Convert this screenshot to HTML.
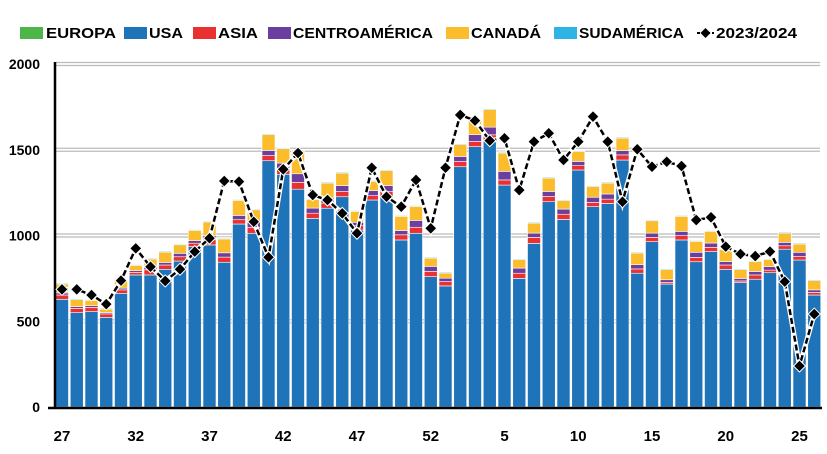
<!DOCTYPE html>
<html><head><meta charset="utf-8">
<style>
body{margin:0;background:#fff;width:827px;height:449px;overflow:hidden}
svg text{font-family:"Liberation Sans",sans-serif;font-weight:bold;fill:#000;stroke:#fff;stroke-width:2.5px;paint-order:stroke;}
</style></head>
<body>
<svg id="chart" width="827" height="449" xmlns="http://www.w3.org/2000/svg"></svg>
<script>
const weeks = [27,28,29,30,31,32,33,34,35,36,37,38,39,40,41,42,43,44,45,46,47,48,49,50,51,52,1,2,3,4,5,6,7,8,9,10,11,12,13,14,15,16,17,18,19,20,21,22,23,24,25,26];
const usa = [628,550,556,523,663,770,770,803,851,935,945,844,1067,1013,1436,1357,1270,1100,1159,1226,1032,1207,1226,974,1013,760,706,1401,1518,1557,1294,750,954,1197,1094,1382,1168,1187,1440,780,964,717,974,847,906,803,725,745,783,920,857,653];
const asia = [25,25,25,20,20,15,30,25,25,20,30,30,25,35,30,35,40,30,30,30,25,25,30,30,35,30,25,30,30,30,30,30,35,30,30,25,25,25,30,25,25,10,25,25,25,25,10,25,15,20,20,15];
const centro = [12,10,10,8,10,10,15,15,20,15,25,25,25,30,30,30,50,30,30,35,20,30,35,25,40,30,20,30,40,45,50,30,25,30,30,25,30,30,25,25,25,15,25,30,25,20,15,20,20,20,25,15];
const canada = [52,41,31,20,44,31,48,60,50,60,79,81,88,72,92,84,132,49,87,73,64,54,87,83,82,48,30,69,87,102,107,49,58,78,49,58,63,64,73,68,72,59,88,64,68,69,51,59,41,54,48,54];
const sud = [5,5,5,5,5,5,5,5,5,5,5,5,5,5,5,5,5,5,5,5,5,5,5,5,5,5,5,5,5,5,5,5,5,5,5,5,5,5,5,5,5,5,5,5,5,5,5,5,5,5,5,5];
const europa = [3,3,3,3,3,3,3,3,3,3,3,3,3,3,3,3,3,3,3,3,3,3,3,3,3,3,3,3,3,3,3,3,3,3,3,3,3,3,3,3,3,3,3,3,3,3,3,3,3,3,3,3];
const line2324 = [686,686,653,600,737,925,818,735,803,906,984,1318,1314,1080,873,1386,1481,1236,1207,1129,1013,1395,1226,1168,1324,1042,1395,1703,1670,1553,1567,1265,1547,1596,1440,1547,1693,1547,1197,1503,1401,1430,1405,1090,1106,935,892,880,906,731,239,542];
const yTicks = [0,500,1000,1500,2000];
const xLabels = [27,32,37,42,47,52,5,10,15,20,25];

const svg = document.getElementById('chart');
const NS = 'http://www.w3.org/2000/svg';
const X0 = 62, STEP = 14.75, BW = 13;
const y = v => 407 - v * (343 / 2000);
const x = i => X0 + i * STEP;
function mk(tag, attrs, parent){const e=document.createElementNS(NS,tag);for(const k in attrs)e.setAttribute(k,attrs[k]);(parent||svg).appendChild(e);return e;}

// grid
yTicks.forEach(t=>{
  if(t>0){
    const g=mk('line',{x1:56,x2:820,y1:y(t)-1.5,y2:y(t)-1.5,stroke:'#bbb','stroke-width':1.2});
    
    
    mk('line',{x1:56,x2:820,y1:y(t)+1.5,y2:y(t)+1.5,stroke:'#bbb','stroke-width':1.2});
  }
  const tx=mk('text',{x:40,y:y(t)+5,'text-anchor':'end','font-size':14});
  tx.textContent=t;
  
  
});

// bars
const series=[['usa',usa,'#1f73b9'],['asia',asia,'#ea3030'],['centro',centro,'#6b3fa0'],['canada',canada,'#fbbd2c'],['sud',sud,'#2fb3e5'],['europa',europa,'#4cb748']];
weeks.forEach((w,i)=>{
  let acc=0;
  series.forEach(([n,arr,c])=>{
    const v=arr[i];
    const r=mk('rect',{x:x(i)-BW/2,y:y(acc+v),width:BW,height:y(acc)-y(acc+v),fill:c,stroke:'#fff','stroke-width':0.6});
    
    
    acc+=v;
  });
});

// axes
const ax=mk('line',{x1:55,x2:55,y1:62,y2:408,stroke:'#000','stroke-width':2.5});


const bx=mk('line',{x1:48,x2:822,y1:408,y2:408,stroke:'#000','stroke-width':2.5});



xLabels.forEach(l=>{
  const i=weeks.indexOf(l, l>=27?0:26);
  const t=mk('text',{x:x(i),y:441,'text-anchor':'middle','font-size':15});
  t.textContent=l;
  
  
});

// line
const pts=line2324.map((v,i)=>x(i)+','+y(v)).join(' ');
mk('polyline',{points:pts,fill:'none',stroke:'#fff','stroke-width':5});
const pl=mk('polyline',{points:pts,fill:'none',stroke:'#000','stroke-width':2.5,'stroke-dasharray':'6,3'});


line2324.forEach((v,i)=>{
  const cx=x(i),cy=y(v);
  const d=mk('polygon',{points:`${cx},${cy-6} ${cx+6},${cy} ${cx},${cy+6} ${cx-6},${cy}`,fill:'#000',stroke:'#fff','stroke-width':1});
  
  
});

// legend
const leg=[['EUROPA','#4cb748',20,46,70],['USA','#1f73b9',124,149,34],['ASIA','#ea3030',193,218,40],['CENTROAMÉRICA','#6b3fa0',268,293,140],['CANADÁ','#fbbd2c',446,471,70],['SUDAMÉRICA','#2fb3e5',554,579,105]];
leg.forEach(([n,c,sx,tx,tl])=>{
  const g=mk('g',{});
  
  
  mk('rect',{x:sx,y:27,width:23,height:12,fill:c},g);
  const t=mk('text',{x:tx,y:38,'font-size':15,textLength:tl,lengthAdjust:'spacingAndGlyphs'},g);
  t.textContent=n;
});
const lg=mk('g',{});


mk('line',{x1:697,x2:714,y1:33,y2:33,stroke:'#000','stroke-width':2,'stroke-dasharray':'3,2'},lg);
mk('polygon',{points:'705.5,28 710.5,33 705.5,38 700.5,33',fill:'#000'},lg);
const lt=mk('text',{x:716,y:38,'font-size':15,textLength:81,lengthAdjust:'spacingAndGlyphs'},lg);
lt.textContent='2023/2024';
</script>
</body></html>
